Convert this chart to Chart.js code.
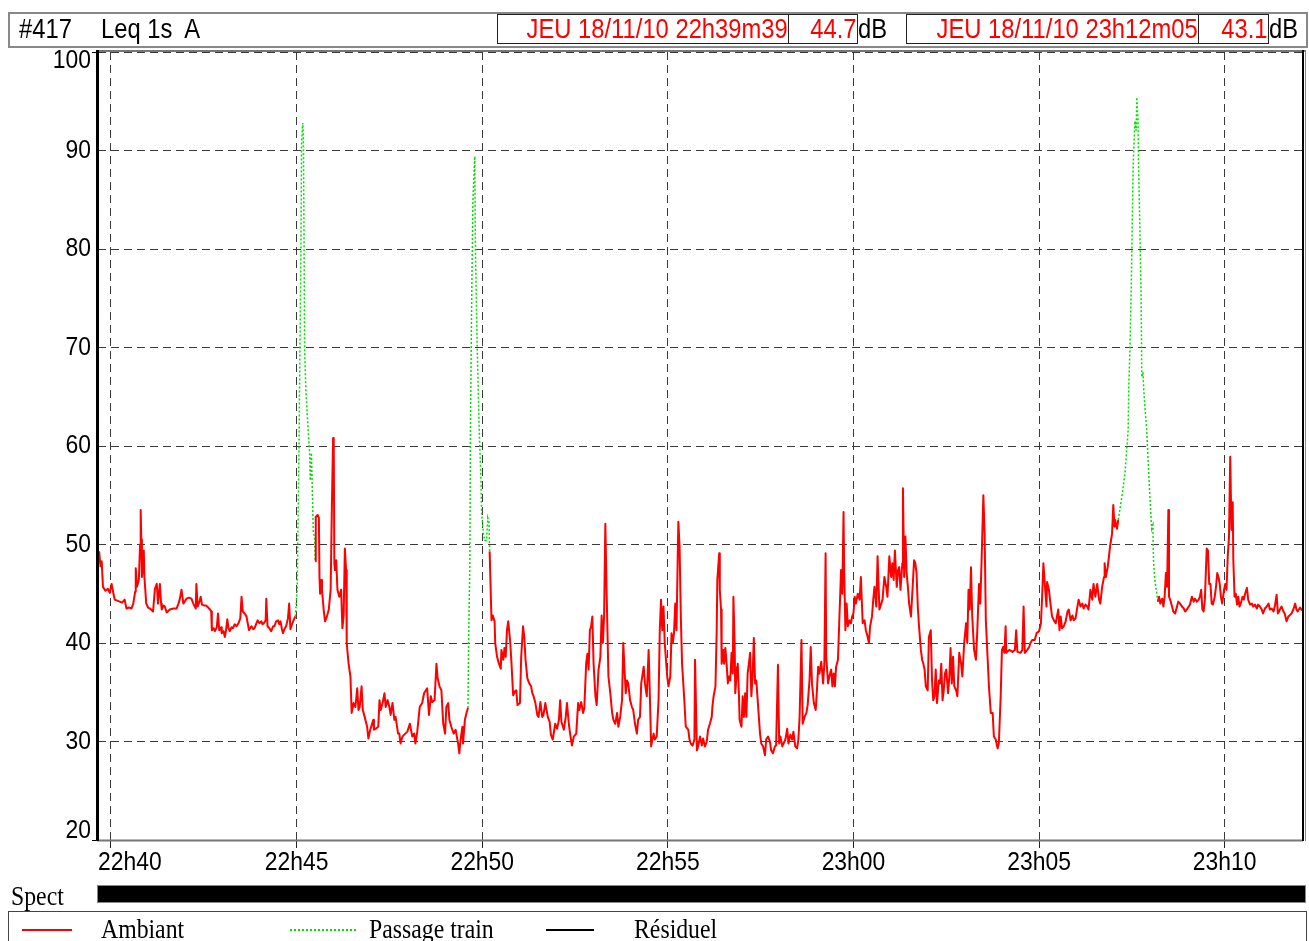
<!DOCTYPE html>
<html>
<head>
<meta charset="utf-8">
<script src="https://cdn.jsdelivr.net/npm/chart.js@4.4.1/dist/chart.umd.min.js"></script>
<style>
html,body{margin:0;padding:0;background:#fff;overflow:hidden;}
#wrap{position:relative;width:1309px;height:941px;}
#c{position:absolute;left:0;top:0;}
.abs{position:absolute;white-space:nowrap;}
.sans{font-family:'Liberation Sans',Arial,sans-serif;font-size:27px;line-height:28px;}
.serif{font-family:'Liberation Serif','Times New Roman',serif;font-size:27px;line-height:28px;}
.sx{display:inline-block;transform:scaleX(0.88);transform-origin:left center;}
.box{position:absolute;top:14px;height:28px;border:1px solid #222;color:#f00;white-space:nowrap;}
.box span{position:absolute;right:0;top:0;display:inline-block;transform:scaleX(0.88);transform-origin:right center;}
</style>
</head>
<body>
<div id="wrap">
<canvas id="c" width="1309" height="941"></canvas>
<div class="abs" style="left:8px;top:12px;width:1296px;height:32px;border:2px solid #888;"></div>
<div class="abs sans" style="left:19px;top:15px;"><span class="sx">#417</span></div>
<div class="abs sans" style="left:101px;top:15px;"><span class="sx">Leq 1s&nbsp; A</span></div>
<div class="box sans" style="left:497px;width:290px;"><span id="t1"></span></div>
<div class="box sans" style="left:788px;width:68px;"><span id="v1"></span></div>
<div class="abs sans" style="left:858px;top:15px;"><span class="sx">dB</span></div>
<div class="box sans" style="left:906px;width:291px;"><span id="t2"></span></div>
<div class="box sans" style="left:1198px;width:69px;"><span id="v2"></span></div>
<div class="abs sans" style="left:1269px;top:15px;"><span class="sx">dB</span></div>
<div class="abs serif" style="left:11px;top:882px;"><span class="sx">Spect</span></div>
<div class="abs" style="left:97px;top:885px;width:1207px;height:16px;background:#000;border:1px solid #888;"></div>
<div class="abs" style="left:8px;top:911px;width:1297px;height:40px;border:1px solid #444;"></div>
<div class="abs" style="left:22px;top:929px;width:50px;height:2px;background:#f00;"></div>
<div class="abs serif" style="left:101px;top:915px;"><span class="sx" id="lg1"></span></div>
<div class="abs" style="left:290px;top:929px;width:66px;height:2px;background:repeating-linear-gradient(90deg,#00e000 0 2px,transparent 2px 4px);"></div>
<div class="abs serif" style="left:369px;top:915px;"><span class="sx" id="lg2"></span></div>
<div class="abs" style="left:546px;top:929px;width:48px;height:2px;background:#000;"></div>
<div class="abs serif" style="left:634px;top:915px;"><span class="sx" id="lg3"></span></div>
</div>
<script>
// ---- data (t = seconds after 22h39m39, value in dB(A)) ----
const startTime = '22h39m39';
const endTime = '23h12m05';
const headerStart = 'JEU 18/11/10 22h39m39';
const headerEnd = 'JEU 18/11/10 23h12m05';
const headerValues = ['44.7', '43.1'];
const seriesNames = ['Ambiant', 'Passage train', 'Résiduel'];
const xTickLabels = ['22h40','22h45','22h50','22h55','23h00','23h05','23h10'];
const yTickValues = [20,30,40,50,60,70,80,90,100];

const ambiant1 = [[0,49.3],[2,49.2],[4,47.8],[6,48.3],[8,45.7],[12,45.3],[16,45.5],[19,45.1],[22,46],[25,45],[27,44.4],[31,44.3],[35,44.2],[39,44.1],[43,44.4],[46,43.5],[50,43.6],[54,43.5],[57,44],[60,45.2],[61,47.6],[63,45.7],[66,46.4],[68,50],[69,53.5],[70,50.5],[71,46.7],[73,48],[74,49.4],[75,46.7],[78,44],[81,43.6],[84,43.5],[89,43.2],[92,45.5],[95,46],[97,44],[100,46],[102,44],[103,43.4],[106,43.8],[108,43.7],[111,43.1],[116,43.4],[122,43.5],[127,43.5],[130,44],[132,44.4],[135,45.4],[138,44],[143,44.5],[147,44.6],[151,44.5],[154,44],[158,43.5],[159,46],[161,43.7],[164,44.2],[166,44.7],[168,43.9],[172,43.8],[175,43.8],[178,43.6],[181,43.4],[183,43.2],[184,41.3],[187,41.5],[189,41.2],[192,41.6],[194,43],[196,41.3],[199,41.6],[200,41],[203,41.2],[205,40.6],[207,41.3],[209,42.4],[211,41.5],[213,41.2],[216,41.6],[218,41.5],[221,41.9],[224,41.7],[227,42],[230,42.5],[232,44.7],[234,43.2],[237,43],[240,42.7],[242,42],[244,41.3],[246,41.5],[248,41.7],[251,41.4],[253,41.5],[256,42],[258,42.3],[261,42],[264,42.2],[266,41.9],[268,42],[271,42.3],[272,44.5],[274,41.7],[277,41.5],[280,41.2],[283,41.7],[285,41.7],[288,42.2],[291,42.3],[293,41.9],[295,42.2],[297,41.5],[299,41],[302,41.5],[304,41.7],[307,42.5],[309,44],[311,41.4],[313,41.8],[316,42.3],[319,42.7]];

const ambiant2 = [[351,48.3],[352,52.8],[355,53],[357,52.7],[358,46.7],[359,45],[361,46.4],[362,45.4],[365,43.2],[367,42.2],[370,42.7],[373,43.4],[376,45.4],[378,53.8],[380,60.8],[381,60.6],[382,48.1],[383,47.4],[385,48.4],[387,45.4],[390,44.7],[393,45.4],[395,41.5],[397,42.7],[399,49.6],[401,47.4],[402,40],[405,37.9],[408,36.6],[410,32.9],[413,33.9],[416,33.5],[419,35.4],[421,33.2],[423,33.5],[426,35.6],[428,33.2],[431,32.5],[435,31.5],[437,30.3],[440,31.2],[443,31.8],[445,32.2],[446,31.2],[449,31.3],[453,31.5],[455,34.2],[457,33.2],[460,33.9],[463,34.9],[465,33.5],[468,34.2],[471,33.5],[473,32.7],[476,33.9],[479,32.2],[481,32.5],[485,30.8],[487,30.8],[489,29.8],[492,30.5],[495,30.7],[500,31],[504,31.8],[508,30.5],[511,30.8],[513,29.8],[516,31],[520,33.5],[524,33.9],[527,34.9],[530,35.2],[532,35.4],[535,32.7],[538,34.6],[540,34],[544,34.2],[547,37.9],[549,36.4],[552,35.6],[555,35.2],[558,31.8],[561,30.8],[563,33.5],[566,33.9],[568,32.2],[571,31.5],[575,30.8],[578,31.2],[582,29.8],[584,28.8],[586,30.2],[589,31.5],[590,29.8],[593,32.2],[596,33],[598,33.4]];

const ambiant3 = [[633,49.3],[636,42.3],[638,42.8],[641,42.2],[642,40],[645,38.6],[648,37.9],[651,37.4],[652,39.3],[655,38.3],[657,39.5],[659,38.6],[661,41.3],[663,42.2],[666,40.3],[668,38.3],[671,34.7],[674,35.1],[676,35.2],[678,33.7],[682,33.9],[684,38.6],[687,41.7],[689,40.6],[691,38.3],[694,36.4],[697,35.9],[700,35.6],[702,34.9],[704,34.6],[707,33.9],[710,32.7],[712,32.5],[715,34],[718,32.5],[720,32.7],[723,33.9],[727,32.5],[730,32],[732,30.7],[735,30.2],[739,31.8],[742,31.3],[745,32.2],[747,34.2],[749,32],[753,31.2],[756,32.5],[758,33.9],[761,31.8],[763,30.8],[766,29.6],[769,30.5],[773,30.8],[776,33.9],[778,33.2],[781,34],[784,32.9],[786,33.4],[789,37.9],[791,38.9],[793,37.3],[795,41.3],[797,41.7],[799,42.7],[801,37.9],[804,34.6],[806,33.7],[809,37.3],[812,38.6],[814,42.8],[816,40],[818,42.7],[820,52.1],[822,45.4],[825,36.6],[828,34.9],[831,32.9],[833,32.2],[836,31.8],[839,32.9],[841,31.5],[844,32.5],[847,34.2],[849,40],[851,37.3],[853,34.9],[855,36.2],[857,35.9],[860,34.2],[863,33.5],[865,33.2],[868,31.8],[871,30.8],[873,32.2],[876,32.5],[878,35.9],[882,37.6],[884,35.9],[887,34.6],[890,39.3],[892,34.6],[894,29.5],[898,30.8],[900,30.2],[903,30.5],[906,34.2],[908,41.3],[910,44.4],[912,41.3],[914,43.7],[916,40],[918,38.3],[920,36.6],[922,35.6],[925,36.6],[927,41],[929,40],[931,41],[933,44],[935,41.3],[938,52.3],[940,49.8],[942,42.7],[944,37.9],[947,34.9],[950,31.5],[954,31.2],[956,30.2],[958,29.8],[961,29.6],[964,30.2],[965,38.3],[968,29.1],[970,29.5],[973,30.5],[976,29.6],[978,30.3],[981,29.5],[984,30],[986,31.2],[989,31.8],[992,32.5],[993,33.5],[995,34.6],[998,35.6],[1000,41.3],[1001,46.4],[1004,49.1],[1005,45.4],[1007,43.4],[1008,37.9],[1011,39.3],[1012,37.9],[1014,39.5],[1016,37.9],[1018,35.9],[1020,36.6],[1022,36.2],[1024,39],[1026,36.9],[1027,44.7],[1029,40],[1030,34.9],[1033,37.6],[1034,37.9],[1036,34.6],[1037,32.2],[1040,31.5],[1042,34.6],[1044,32.5],[1046,34.9],[1048,32.5],[1050,36.9],[1052,37.9],[1054,39],[1056,34.6],[1058,36.6],[1060,40.5],[1062,35.9],[1064,36.2],[1067,33.5],[1070,30.8],[1072,29.8],[1075,29.5],[1078,28.6],[1080,30.2],[1083,30.5],[1086,30],[1088,29.1],[1091,28.8],[1094,29.5],[1096,29.6],[1099,37.8],[1101,29.8],[1103,30.5],[1106,29.5],[1108,29.8],[1111,30.2],[1114,31.3],[1116,29.8],[1119,30.7],[1122,30.2],[1124,31],[1127,29.5],[1130,29.3],[1132,30.2],[1134,32.5],[1137,40.3],[1139,31.8],[1142,32.5],[1145,32.9],[1147,33.7],[1150,36.2],[1152,39.6],[1154,35.9],[1157,33.9],[1160,33.2],[1162,35.2],[1164,37.6],[1166,36.9],[1169,38.1],[1172,35.9],[1174,37.9],[1176,49.1],[1177,38.6],[1180,35.9],[1182,36.6],[1185,37.3],[1187,35.6],[1189,36.9],[1191,35.6],[1193,37.6],[1196,38.3],[1198,42],[1201,47.4],[1203,45],[1205,53.3],[1206,47.4],[1208,41.3],[1210,44],[1212,41.7],[1215,42.3],[1217,42],[1219,42.7],[1221,43],[1223,44.7],[1225,44],[1228,45],[1231,44.4],[1233,46.7],[1236,42],[1239,42.3],[1241,41.3],[1244,40.6],[1246,40],[1248,41.7],[1251,42.7],[1253,44.4],[1255,45.7],[1258,43.7],[1260,48.8],[1263,43.4],[1266,44],[1268,44.4],[1271,46.7],[1274,45.7],[1276,44.7],[1279,48.8],[1282,46.7],[1284,48.1],[1286,46.4],[1288,49.4],[1291,45.7],[1293,47.4],[1295,47.7],[1297,45.4],[1300,48.1],[1301,55.7],[1303,46.7],[1305,50.8],[1307,47.1],[1309,45.7],[1311,44],[1314,42.7],[1317,46],[1319,48.4],[1321,48.1],[1323,47.1],[1325,43.7],[1327,41.7],[1330,39.3],[1332,38.3],[1334,37.9],[1336,37.3],[1338,35.6],[1341,35.2],[1343,40.6],[1346,41.3],[1348,36.2],[1350,34.2],[1352,34.6],[1354,37.3],[1356,33.9],[1359,36.2],[1361,35.9],[1363,37.9],[1365,34.2],[1367,35.2],[1369,36.9],[1371,37.3],[1374,34.9],[1376,36.6],[1378,39.5],[1380,35.9],[1382,38.6],[1384,35.6],[1387,35.2],[1389,34.6],[1392,39],[1395,37.9],[1397,36.6],[1400,40],[1403,42],[1405,40],[1407,45.4],[1409,43.4],[1411,47.7],[1413,42.7],[1416,39.3],[1419,38.3],[1421,41],[1424,46],[1426,44],[1428,48.1],[1431,55],[1433,51.1],[1435,42.3],[1438,38.3],[1440,35.6],[1443,32.9],[1446,32.9],[1448,30.5],[1451,30.2],[1454,29.3],[1456,29.8],[1459,34.6],[1461,39.3],[1463,39.6],[1465,39],[1467,41.7],[1468,39],[1473,39.3],[1478,39.1],[1482,39.3],[1484,41.3],[1486,39.1],[1491,39],[1494,39.3],[1496,43.7],[1498,39],[1502,39.3],[1505,39.6],[1507,40],[1510,40.3],[1514,40.3],[1517,41],[1521,41.2],[1524,42],[1526,44.7],[1528,48.1],[1531,45.4],[1533,43.7],[1534,46.2],[1537,45.4],[1540,43.7],[1542,42.7],[1545,42.3],[1548,42],[1550,42.7],[1552,43.4],[1554,41.3],[1556,42.7],[1558,41.5],[1561,41.7],[1564,42.2],[1567,43.2],[1569,43.4],[1572,42.3],[1575,42.8],[1577,42.3],[1580,42.5],[1583,43.7],[1585,44.4],[1588,43.7],[1591,44],[1593,43.5],[1596,43.9],[1599,43.7],[1601,43.4],[1604,45.4],[1607,44.4],[1609,46],[1612,44.7],[1615,46],[1618,44.4],[1620,44],[1623,45.7],[1626,46.7],[1627,48.1],[1629,46.7],[1632,47.7],[1634,48.8],[1636,49.9],[1639,51.1],[1641,54],[1643,51.8],[1644,52.5],[1647,51.6],[1649,52.5]];

const ambiant4 = [[1713,44.2],[1715,44.7],[1717,44],[1720,44.5],[1722,43.7],[1724,44.7],[1726,47.1],[1728,45.7],[1730,53.5],[1731,44.7],[1733,44.4],[1736,43.7],[1738,43.2],[1741,43],[1744,43.7],[1746,44.2],[1749,44],[1752,43.7],[1755,43.5],[1757,43.2],[1760,43.4],[1763,43.7],[1765,43.9],[1768,44.7],[1771,44.2],[1773,44.5],[1776,44.2],[1779,44.4],[1781,44.7],[1783,45.4],[1785,43.4],[1787,43.2],[1789,44.4],[1792,49.6],[1794,49.4],[1796,46],[1798,46],[1800,44],[1802,43.9],[1805,44.7],[1807,45.7],[1809,47.1],[1811,46.7],[1813,46],[1815,44.7],[1817,44],[1820,45.4],[1822,46],[1824,45.4],[1826,48.8],[1828,50.8],[1829,54.9],[1830,58.9],[1832,51.5],[1834,54.3],[1835,48.4],[1837,44.7],[1839,45],[1841,43.9],[1843,44.7],[1845,43.7],[1847,44],[1850,44.7],[1852,44.4],[1854,45],[1857,45.6],[1859,44.4],[1862,43.9],[1865,44],[1867,43.7],[1870,43.9],[1873,43.5],[1875,43.9],[1878,43.7],[1881,43.4],[1883,43],[1886,43.5],[1889,43.7],[1892,44],[1894,43.4],[1897,43.5],[1900,43.2],[1902,43.7],[1905,44.9],[1907,43],[1909,43.2],[1911,43.5],[1913,43.7],[1916,43.2],[1918,43],[1921,42.2],[1924,42.7],[1926,42.8],[1929,43],[1932,43.4],[1935,44],[1937,43.4],[1939,43.2],[1943,43.6],[1946,43.3]];

const train1 = [[319,42.7],[322,45.4],[323,50.6],[325,60.6],[328,79.9],[329,90.6],[331,92.8],[332,91],[333,80.9],[334,69.7],[336,65.7],[339,62.3],[342,59.3],[343,56.5],[345,59.3],[346,56.5],[348,51.2],[350,50.8],[351,48.3]];
const train2 = [[598,33.4],[599,40],[601,48.1],[602,61.6],[604,75],[606,85],[609,89.4],[610,80.2],[613,69.7],[616,62],[619,56.5],[620,53.2],[623,51.1],[625,50.4],[628,50.4],[630,52.7],[632,52.2],[633,49.3]];
const train3 = [[1649,52.5],[1655,54.9],[1660,57.3],[1665,61.6],[1666,66],[1668,70],[1670,76],[1671,80],[1673,88],[1674,90],[1676,93],[1678,92],[1679,95.4],[1681,93],[1682,88],[1684,82],[1686,75],[1687,67],[1689,67.5],[1690,66],[1692,64],[1695,61.6],[1700,55],[1703,51.6],[1705,52],[1706,48.4],[1708,46.5],[1713,44.2]];
const residuel = [];

// ---- helpers ----
function hms(s){ const m = s.match(/(\d+)h(\d+)(?:m(\d+))?/); return (+m[1])*3600 + (+m[2])*60 + (m[3]? +m[3] : 0); }
const T0 = hms(startTime), T1 = hms(endTime);
function joinSegs(segs){
  const out = [];
  segs.forEach((seg, i) => {
    if (i > 0) out.push({x: T0 + seg[0][0] - 0.5, y: null});
    seg.forEach(p => out.push({x: T0 + p[0], y: p[1]}));
  });
  return out;
}
document.getElementById('t1').textContent = headerStart;
document.getElementById('t2').textContent = headerEnd;
document.getElementById('v1').textContent = headerValues[0];
document.getElementById('v2').textContent = headerValues[1];
document.getElementById('lg1').textContent = seriesNames[0];
document.getElementById('lg2').textContent = seriesNames[1];
document.getElementById('lg3').textContent = seriesNames[2];

const FONT = "26px 'Liberation Sans', Arial, sans-serif";
function sText(ctx, txt, x, y, align){
  ctx.save();
  ctx.translate(x, y);
  ctx.scale(0.88, 1);
  ctx.textAlign = align; ctx.textBaseline = 'middle';
  ctx.fillText(txt, 0, 0);
  ctx.restore();
}
const decor = {
  id: 'decor',
  afterDraw(chart){
    const ctx = chart.ctx, a = chart.chartArea;
    const xs = chart.scales.x, ys = chart.scales.y;
    ctx.save();
    // frame
    ctx.strokeStyle = '#777'; ctx.lineWidth = 2;
    ctx.beginPath(); ctx.moveTo(a.left-1, a.top-1); ctx.lineTo(1306, a.top-1); ctx.stroke();
    ctx.beginPath(); ctx.moveTo(a.left-1, a.bottom+0.5); ctx.lineTo(a.right+1, a.bottom+0.5); ctx.stroke();
    ctx.strokeStyle = '#000'; ctx.lineWidth = 3;
    ctx.beginPath(); ctx.moveTo(a.left-0.5, a.top-2); ctx.lineTo(a.left-0.5, a.bottom+1); ctx.stroke();
    ctx.lineWidth = 2;
    ctx.beginPath(); ctx.moveTo(a.right+1, a.top-2); ctx.lineTo(a.right+1, a.bottom+1); ctx.stroke();
    ctx.strokeStyle = '#888'; ctx.lineWidth = 1;
    ctx.beginPath(); ctx.moveTo(1305.5, a.top-2); ctx.lineTo(1305.5, a.bottom+1); ctx.stroke();
    // y labels
    ctx.fillStyle = '#000'; ctx.font = FONT;
    yTickValues.forEach(v => {
      let y = ys.getPixelForValue(v);
      let off = 0;
      if (v === ys.max) off = 9;
      if (v === ys.min) off = -9;
      sText(ctx, String(v), 91, y + off, 'right');
      if (v === ys.max || v === ys.min){
        ctx.strokeStyle = '#000'; ctx.lineWidth = 1;
        ctx.beginPath(); ctx.moveTo(92, Math.round(y)+0.5); ctx.lineTo(96, Math.round(y)+0.5); ctx.stroke();
      }
    });
    // x labels
    xTickLabels.forEach(lbl => {
      const px = xs.getPixelForValue(hms(lbl));
      const w = ctx.measureText(lbl).width * 0.88;
      if (px - w/2 < a.left) sText(ctx, lbl, a.left, 863, 'left');
      else sText(ctx, lbl, px, 863, 'center');
    });
    ctx.restore();
  }
};

new Chart(document.getElementById('c'), {
  type: 'line',
  data: {
    datasets: [
      {label: seriesNames[0], data: joinSegs([ambiant1, ambiant2, ambiant3, ambiant4]), borderColor: '#ff0000', borderWidth: 2, pointRadius: 0, tension: 0, spanGaps: false, borderJoinStyle: 'round', order: 1},
      {label: seriesNames[1], data: joinSegs([train1, train2, train3]), borderColor: '#00e000', borderWidth: 1.5, borderDash: [2, 2], pointRadius: 0, tension: 0, spanGaps: false, order: 2},
      {label: seriesNames[2], data: residuel, borderColor: '#000', borderWidth: 1.5, pointRadius: 0}
    ]
  },
  options: {
    responsive: false, animation: false, devicePixelRatio: 1,
    parsing: true, normalized: true,
    layout: {padding: {top: 52, right: 7, left: 0, bottom: 0}},
    plugins: {legend: {display: false}, tooltip: {enabled: false}, title: {display: false}},
    scales: {
      x: {
        type: 'linear', min: T0, max: T1,
        afterBuildTicks: s => { s.ticks = xTickLabels.map(l => ({value: hms(l)})); },
        afterFit: s => { s.height = 101; },
        ticks: {display: false},
        grid: {color: '#3a3a3a', lineWidth: 1, drawTicks: true, tickLength: 8, tickColor: '#222', tickBorderDash: []},
        border: {display: false, dash: [8, 5]}
      },
      y: {
        min: 20, max: 100,
        afterBuildTicks: s => { s.ticks = yTickValues.map(v => ({value: v})); },
        afterFit: s => { s.width = 98; },
        ticks: {display: false},
        grid: {color: '#3a3a3a', lineWidth: 1, drawTicks: false},
        border: {display: false, dash: [8, 5]}
      }
    }
  },
  plugins: [decor]
});
</script>
</body>
</html>
